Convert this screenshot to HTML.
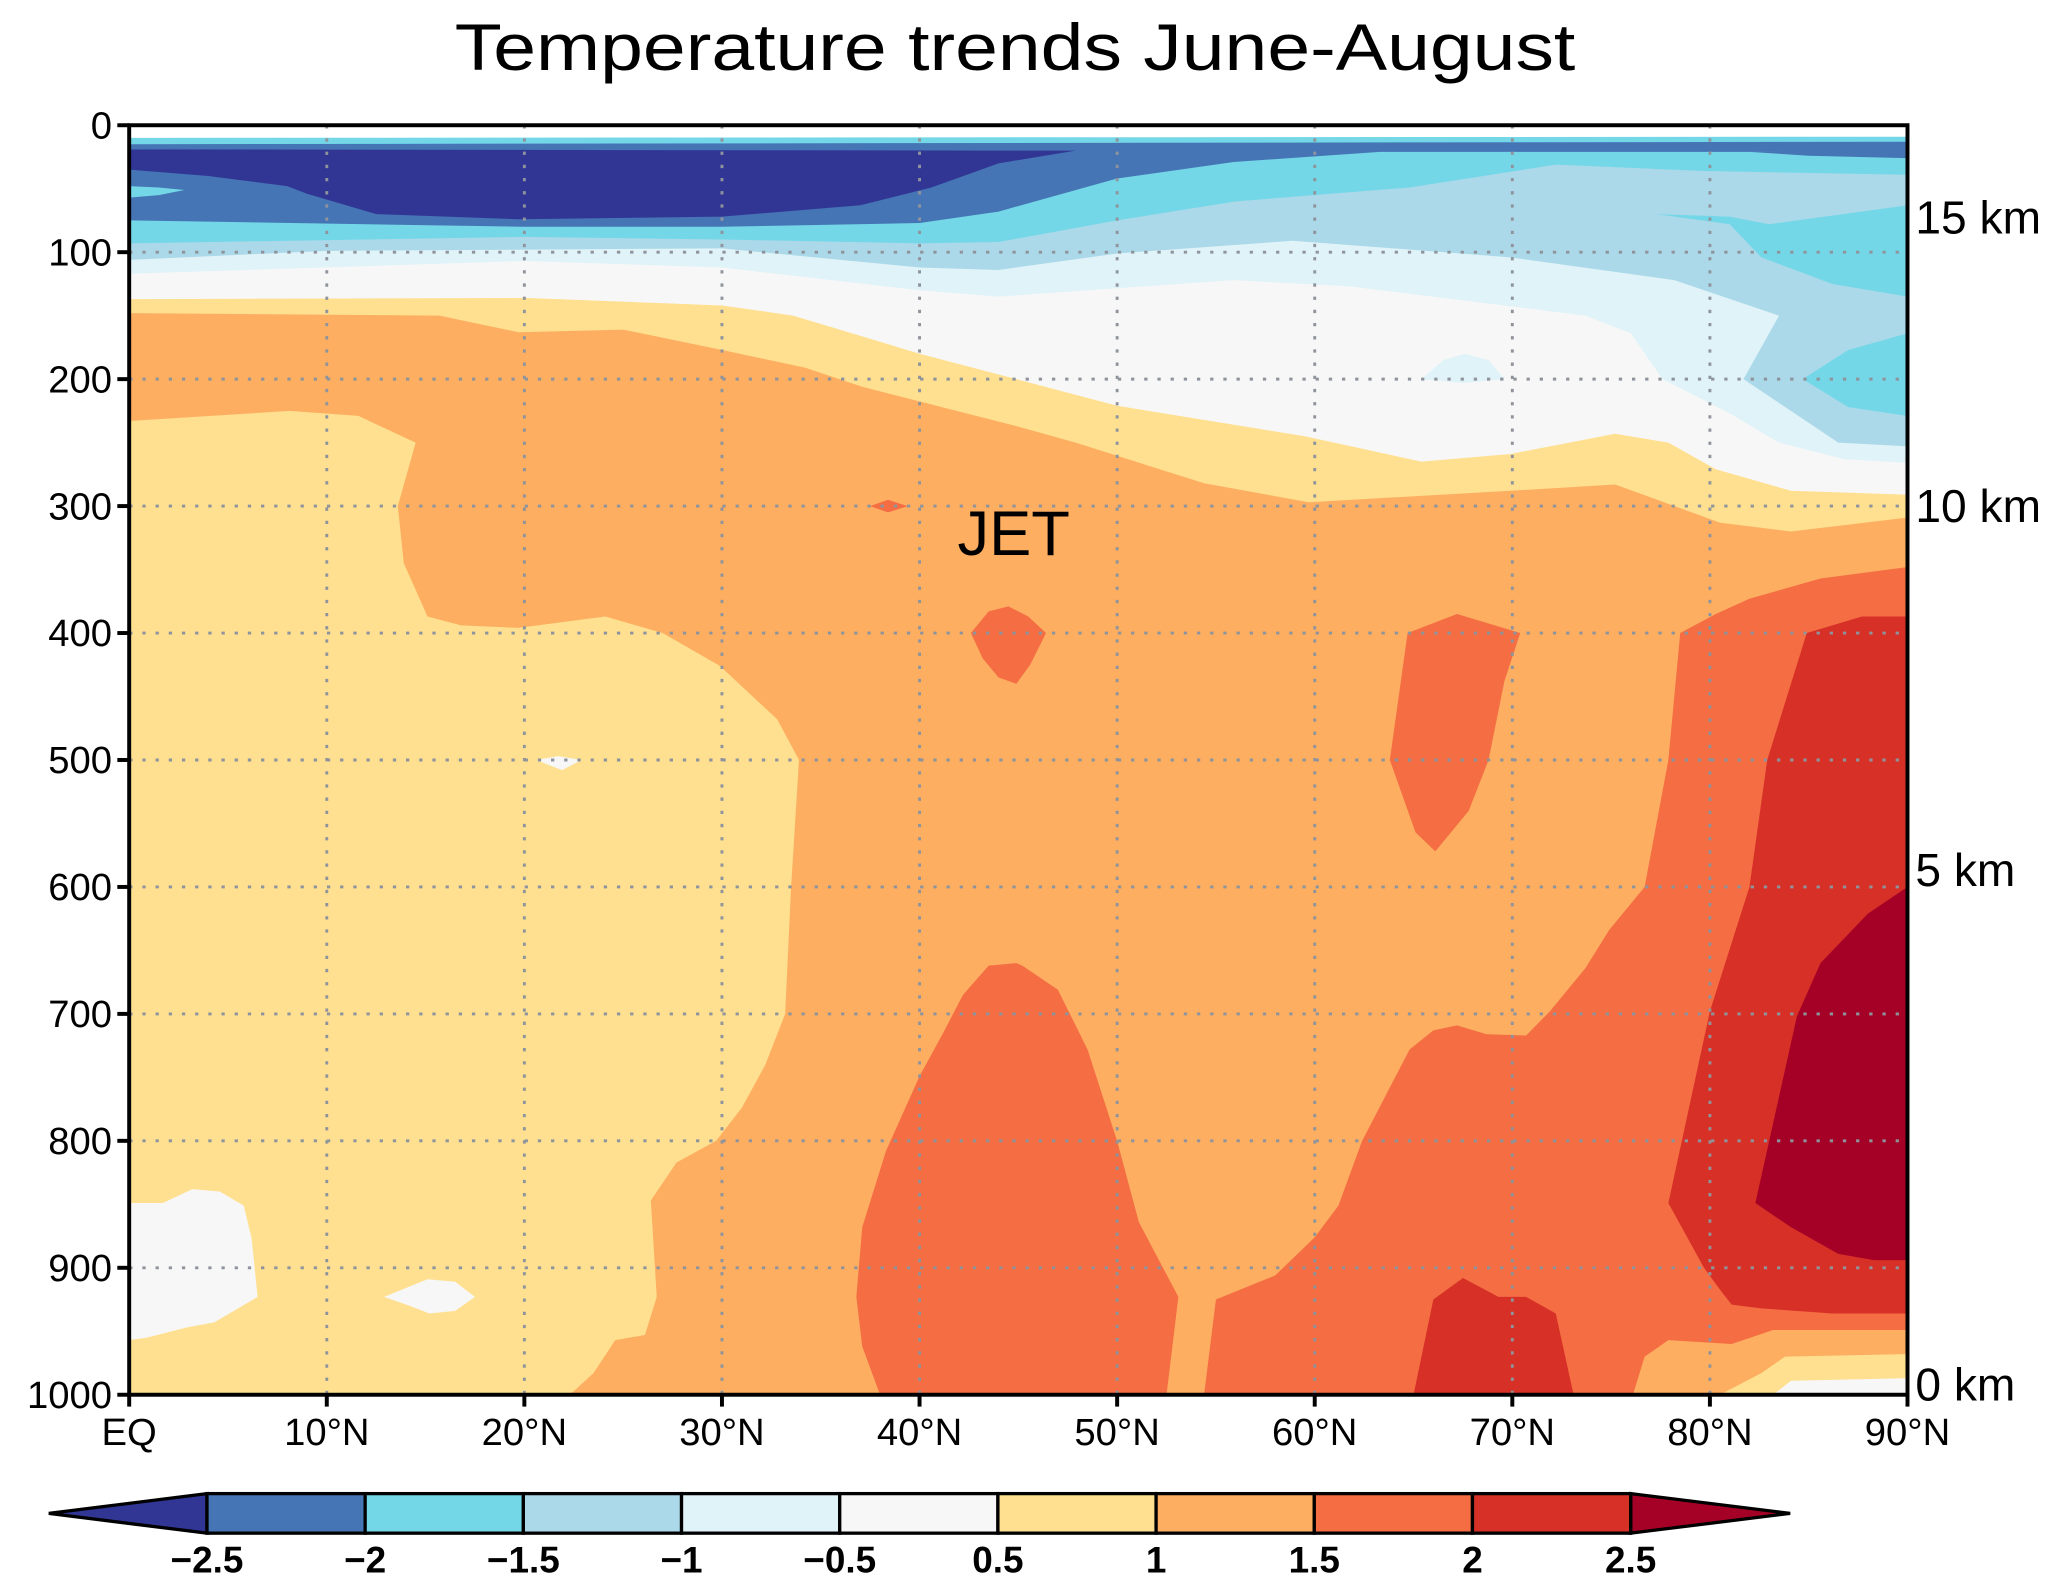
<!DOCTYPE html>
<html><head><meta charset="utf-8"><style>
html,body{margin:0;padding:0;background:#fff;}
svg{display:block;}
text{font-family:"Liberation Sans",sans-serif;fill:#000;}
</style></head><body>
<svg id="chart" width="2067" height="1588" viewBox="0 0 1568 1204.6" preserveAspectRatio="none" xmlns="http://www.w3.org/2000/svg">
<rect width="1568" height="1204.6" fill="#fff"/>
<text x="770" y="53" font-size="50" text-anchor="middle" textLength="850" lengthAdjust="spacingAndGlyphs">Temperature trends June-August</text>
<g id="fills"></g>
<g id="grid"></g>
<g id="axes"></g>
<text x="769" y="421" font-size="48" text-anchor="middle">JET</text>
<g id="cbar"></g>
</svg>
<script>
// ---- data ----
const latTicks = [0,10,20,30,40,50,60,70,80,90];
const latLabels = ["EQ","10°N","20°N","30°N","40°N","50°N","60°N","70°N","80°N","90°N"];
const pTicks = [0,100,200,300,400,500,600,700,800,900,1000];
const kmLabels = ["15 km","10 km","5 km","0 km"];
const kmPressures = [73,300,587,992];
const levels = [-2.5,-2,-1.5,-1,-0.5,0.5,1,1.5,2,2.5];
const levelLabels = ["−2.5","−2","−1.5","−1","−0.5","0.5","1","1.5","2","2.5"];
const colors = ["#313695","#4575b4","#74d7e8","#abd9e9","#e0f3f8","#f7f7f7","#fee090","#fdae61","#f46d43","#d73027","#a50026"];
// contour regions as [lat, hPa] pairs; drawn in order
const regBase = [[0,0],[90,0],[90,1000],[0,1000]];
const regYellowTop = [[0,0],[90,0],[90,309],[84.1,320],[80.5,313],[75.2,283],[69.9,288],[59.7,297],[54.4,282],[47.9,250],[44.9,237],[37.1,206],[34.2,191],[30,177],[25,161],[19.7,163],[15.7,150],[0,148]];
const regYellowLeft = [[0,233],[8.1,225],[11.6,229],[14.5,250],[13.6,300],[13.9,345],[15.1,387],[16.8,394],[19.7,396],[24.1,387],[27,400],[29.9,426],[32.8,468],[33.9,500],[33.5,600],[33.2,700],[32.2,740],[31,774],[29.7,800],[27.7,817],[26.4,847],[26.7,923],[26.1,953],[24.6,957],[23.5,983],[22.3,1000],[0,1000]];
const regWhiteTop = [[0,0],[90,0],[90,291],[84.1,288],[80.3,271],[77.9,250],[75.2,243],[69.9,259],[65.4,265],[59.5,245],[50,221],[44.9,200],[40,180],[33.6,150],[30,142],[20,136],[0,137]];
const regWhiteBlob1 = [[0,849],[1.7,849],[3.2,838],[4.6,840],[5.8,851],[6.2,877],[6.5,923],[4.3,943],[2.9,947],[0.9,955],[0,957]];
const regWhiteBlob2 = [[12.9,923],[15.1,909],[16.5,911],[17.5,923],[16.5,934],[15.2,936],[14.2,930]];
const regWhiteBlob3 = [[20.6,500],[21.7,497],[22.9,500],[21.9,508]];
const regVLightTop = [[0,0],[90,0],[90,266],[86.8,263],[83.5,250],[81,227],[77.6,200],[76,164],[73.7,150],[61.8,127],[55.9,122],[44,135],[40,130],[30,112],[20,107],[0,117]];
const regVLightBlob = [[65.4,200],[66.5,185],[67.6,180],[68.8,185],[69.6,200],[67.5,203]];
const regLightTop = [[0,0],[90,0],[90,253],[86.5,250],[81.7,200],[83.5,150],[78.2,122],[69.9,104],[58.9,91],[50,101],[44,114],[40,112],[30,97],[10,99],[0,106]];
const regCyanTop = [[0,0],[90,0],[90,39],[79.7,36],[72.2,31],[64.8,49],[56,60],[50,75],[44,92],[40,93],[30,90],[20,88],[0,93]];
const regCyanRight = [[77.3,70],[81,72],[83,78],[90,63],[90,135],[86.2,125],[82.6,104],[81,78]];
const regCyanBlob = [[90,164],[87,177],[84.7,200],[87,222],[90,229]];
const regMidTop = [[0,0],[90,0],[90,21],[63.3,21],[55.9,29],[50,42],[44,68],[40,77],[30,80],[20,80],[0,75]];
const regMidRight = [[82,21],[90,20],[90,26],[85,24]];
const regCyanLeft = [[0,48],[1.5,49],[2.8,51],[1.5,55],[0,57]];
const regDark = [[0,19],[47.9,20],[44,30],[40.6,49],[37,63],[30,72],[19.7,74],[12.5,70],[9,54],[8,48],[4,40],[0,35]];
const regStripMid = [[0,0],[90,0],[90,16],[0,19]];
const regStripCyan = [[0,0],[90,0],[90,13],[0,15]];
const regStripWhite = [[0,0],[90,0],[90,9],[0,10]];
const regR1Tiny = [[37.5,300],[38.4,295],[39.4,300],[38.4,305]];
const regR1Blob1 = [[42.6,400],[43.5,383],[44.5,379],[45.5,387],[46.4,400],[45.6,425],[44.9,440],[44,435],[43.2,420]];
const regR1Blob2 = [[64.7,400],[67.2,385],[70.4,400],[69.6,438],[68.8,500],[67.8,540],[66.1,572],[65.1,557],[63.8,500]];
const regR1Center = [[36.8,923],[37.1,868],[38.3,808],[40,749],[41.2,715],[42.2,685],[43.5,662],[44.9,660],[45.2,662],[47,681],[48.5,728],[50,800],[51.1,864],[53.1,923],[52.5,1000],[38,1000],[37.1,962]];
const regR1Right = [[54.4,1000],[55,925],[58,906],[60,876],[61.2,851],[62.4,800],[64.8,728],[66,713],[67.2,709],[68.7,716],[70.7,717],[71.9,698],[73.7,664],[74.9,634],[76.7,600],[77.9,500],[78.5,400],[80.3,385],[82,373],[85.6,357],[90,348],[90,949],[83.2,949],[81.1,960],[77.9,957],[76.7,970],[76.1,1000]];
const regR2Center = [[65,1000],[66,925],[67.5,908],[69.3,923],[70.7,923],[72.2,936],[73.1,1000]];
const regR2Right = [[84.9,400],[87.7,387],[90,387],[90,936],[86.2,936],[82.6,932],[81.1,929],[80.5,917],[79.7,900],[77.9,849],[80,698],[82,600],[82.9,500]];
const regR3 = [[90,600],[88,621],[85.6,660],[84.4,702],[82.3,849],[84.1,868],[86.5,889],[88.3,894],[90,894]];
const regYellowBR = [[80.5,1000],[82.6,983],[83.8,970],[90,968],[90,1000]];
const regWhiteBR = [[83.2,1000],[84.1,989],[90,987],[90,1000]];

// ---- axes ----
const X0=98, X1=1447, Y0=95, Y1=1058;
const xS = lat => X0 + lat/90*(X1-X0);
const yS = p => Y0 + p/1000*(Y1-Y0);
const NS="http://www.w3.org/2000/svg";
function mk(tag, attrs, parent){const e=document.createElementNS(NS,tag);for(const k in attrs)e.setAttribute(k,attrs[k]);parent.appendChild(e);return e;}
const fills=document.getElementById('fills');
function region(pts, col, name){
  const d = pts.map((q,i)=>(i?'L':'M')+xS(q[0]).toFixed(1)+','+yS(q[1]).toFixed(1)).join('')+'Z';
  const e = mk('path',{d:d,fill:col},fills);
  
  
}
region(regBase, colors[7], 'region-1-to-1.5');
region(regYellowTop, colors[6], 'region-0.5-to-1-upper');
region(regYellowLeft, colors[6], 'region-0.5-to-1-tropics');
region(regWhiteTop, colors[5], 'region-near-zero-upper');
region(regWhiteBlob1, colors[5], 'region-near-zero-blob');
region(regWhiteBlob2, colors[5], 'region-near-zero-blob');
region(regWhiteBlob3, colors[5], 'region-near-zero-blob');
region(regVLightTop, colors[4], 'region-minus-0.5-upper');
region(regVLightBlob, colors[4], 'region-minus-0.5-blob');
region(regLightTop, colors[3], 'region-minus-1-upper');
region(regCyanTop, colors[2], 'region-minus-1.5-upper');
region(regCyanRight, colors[2], 'region-minus-1.5-polar');
region(regCyanBlob, colors[2], 'region-minus-1.5-blob');
region(regMidTop, colors[1], 'region-minus-2-upper');
region(regMidRight, colors[1], 'region-minus-2-polar');
region(regCyanLeft, colors[2], 'region-minus-1.5-eq');
region(regDark, colors[0], 'region-below-minus-2.5');
region(regStripMid, colors[1], 'region-top-strip-mid');
region(regStripCyan, colors[2], 'region-top-strip');
region(regStripWhite, "#ffffff", 'region-top-strip-white');
region(regR1Tiny, colors[8], 'region-1.5-to-2-jet');
region(regR1Blob1, colors[8], 'region-1.5-to-2-blob');
region(regR1Blob2, colors[8], 'region-1.5-to-2-blob');
region(regR1Center, colors[8], 'region-1.5-to-2-midlat');
region(regR1Right, colors[8], 'region-1.5-to-2-arctic');
region(regR2Center, colors[9], 'region-2-to-2.5-surface');
region(regR2Right, colors[9], 'region-2-to-2.5-arctic');
region(regR3, colors[10], 'region-above-2.5');
region(regYellowBR, colors[6], 'region-0.5-to-1-polar-surface');
region(regWhiteBR, colors[5], 'region-near-zero-polar-surface');

// grid
const grid=document.getElementById('grid');
latTicks.slice(1,-1).forEach(l=>{const e=mk('line',{x1:xS(l),x2:xS(l),y1:Y0,y2:Y1,stroke:'#8f949c','stroke-width':2.2,'stroke-dasharray':'2.5 7.5'},grid);

});
pTicks.slice(1).forEach(p=>{const e=mk('line',{x1:X0,x2:X1,y1:yS(p),y2:yS(p),stroke:'#8f949c','stroke-width':2.2,'stroke-dasharray':'2.5 7.5'},grid);

});

// axes
const axes=document.getElementById('axes');
const frame=mk('rect',{x:X0,y:Y0,width:X1-X0,height:Y1-Y0,fill:'none',stroke:'#000','stroke-width':3},axes);


pTicks.forEach(p=>{mk('line',{x1:X0-9,x2:X0,y1:yS(p),y2:yS(p),stroke:'#000','stroke-width':3},axes);
const t=mk('text',{x:X0-13,y:yS(p)+10,'font-size':29,'text-anchor':'end'},axes);t.textContent=p;

});
latTicks.forEach((l,i)=>{mk('line',{x1:xS(l),x2:xS(l),y1:Y1,y2:Y1+9,stroke:'#000','stroke-width':3},axes);
const t=mk('text',{x:xS(l),y:Y1+38,'font-size':29,'text-anchor':'middle'},axes);t.textContent=latLabels[i];

});
kmLabels.forEach((k,i)=>{const t=mk('text',{x:X1+6,y:yS(kmPressures[i])+12,'font-size':35},axes);t.textContent=k;

});

// colorbar
const cb=document.getElementById('cbar');
const CB0=157, CBW=120, CBY=1133, CBH=30;
const cx = i => CB0 + i*CBW;
const tl=mk('path',{d:`M${cx(0)},${CBY}L37,${CBY+CBH/2}L${cx(0)},${CBY+CBH}Z`,fill:colors[0],stroke:'#000','stroke-width':2.5},cb);


const tr=mk('path',{d:`M${cx(9)},${CBY}L1358,${CBY+CBH/2}L${cx(9)},${CBY+CBH}Z`,fill:colors[10],stroke:'#000','stroke-width':2.5},cb);


for(let i=0;i<9;i++){const r=mk('rect',{x:cx(i),y:CBY,width:CBW,height:CBH,fill:colors[i+1],stroke:'#000','stroke-width':2.5},cb);

}
levelLabels.forEach((s,i)=>{const t=mk('text',{x:cx(i),y:1193,'font-size':28,'font-weight':'bold','text-anchor':'middle'},cb);t.textContent=s;

});
</script>
</body></html>
